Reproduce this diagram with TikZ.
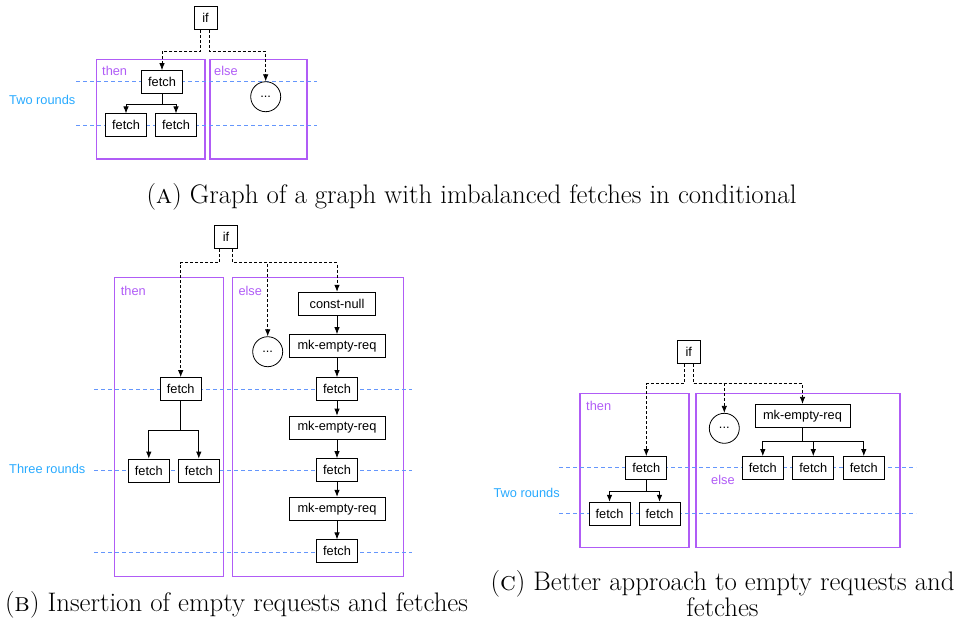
\documentclass[tikz,border=0pt]{standalone}
\usepackage{fontspec}
\newfontfamily\diagfont{Liberation Sans}
\usepackage{tikz}
\usetikzlibrary{positioning, arrows.meta}
\definecolor{framepurple}{RGB}{176,92,246}
\definecolor{roundline}{RGB}{100,150,252}
\definecolor{roundtext}{RGB}{40,170,255}
\tikzset{
    on grid,
    x=1pt, y=-1pt,
    >={Latex[length=7pt,width=5.5pt]},
    op/.style={draw, line width=0.8pt, minimum height=23pt, minimum width=41pt,
        inner sep=0pt, font=\diagfont\fontsize{12.8}{15}\selectfont},
    cond/.style={op, minimum width=23pt},
    wide/.style={op, minimum width=96pt},
    dots/.style={circle, draw, line width=0.8pt, minimum size=30pt, inner sep=0pt,
        font=\diagfont\fontsize{12.8}{15}\selectfont},
    flow/.style={->, line width=0.8pt},
    branch/.style={->, line width=0.8pt, dash pattern=on 3pt off 2pt},
    frame/.style={draw=framepurple, line width=1.2pt},
    lbl/.style={anchor=west, inner sep=0pt, text=framepurple,
        font=\diagfont\fontsize{12.8}{15}\selectfont},
    rounds/.style={draw=roundline, line width=1pt, dash pattern=on 4pt off 3pt},
    roundlbl/.style={anchor=west, inner sep=0pt, text=roundtext,
        font=\diagfont\fontsize{12.8}{15}\selectfont},
    subcap/.style={inner sep=0pt, align=center, font=\fontsize{26.8}{26}\selectfont},
}

\begin{document}
\begin{tikzpicture}
    \useasboundingbox (0,0) rectangle (963,630);

    % (a) imbalanced fetches
    \draw[frame] (96.7,59.3) rectangle (205,159);
    \draw[frame] (210,59.3) rectangle (307,159);
    \node[lbl] (thenA) at (102,70.7) {then};
    \node[lbl] (elseA) at (214,70.7) {else};
    \draw[rounds] (76,81.7) -- (316.7,81.7);
    \draw[rounds] (76,125) -- (316.7,125);
    \node[roundlbl] (roundsA) at (9,100) {Two rounds};

    \node[cond, fill=white] (ifA) at (205.5,18) {if};
    \node[op, fill=white, below left=64pt and 43.5pt of ifA] (fetchA) {fetch};
    \node[op, fill=white, below left=43.3pt and 36pt of fetchA] (fetchA1) {fetch};
    \node[op, fill=white, below right=43.3pt and 14pt of fetchA] (fetchA2) {fetch};
    \node[dots, fill=white, below right=78.7pt and 60.2pt of ifA] (dotsA) {...};

    \draw[branch] ([xshift=-4.8pt]ifA.south) -- ++(0,21.7) -| (fetchA);
    \draw[branch] ([xshift=3.8pt]ifA.south) -- ++(0,21.7) -| (dotsA);
    \draw[flow] (fetchA.south) -- ++(0,10.3) -| (fetchA1);
    \draw[flow] (fetchA.south) -- ++(0,10.3) -| (fetchA2);

    \node[subcap] (capA) at (471.5,197) {(\textsc{a}) Graph of a graph with imbalanced fetches in conditional};

    % (b) empty requests and fetches inserted
    \draw[frame] (114.7,277.3) rectangle (223.3,576.7);
    \draw[frame] (232.7,277.3) rectangle (403.3,576.7);
    \node[lbl] (thenB) at (120.7,290.7) {then};
    \node[lbl] (elseB) at (238.3,290.7) {else};
    \draw[rounds] (94,389) -- (411.7,389);
    \draw[rounds] (94,470.3) -- (411.7,470.3);
    \draw[rounds] (94,552.3) -- (411.7,552.3);
    \node[roundlbl] (roundsB) at (9,469) {Three rounds};

    \node[cond, fill=white] (ifB) at (226,237) {if};
    \node[op, fill=white, below left=152pt and 45.3pt of ifB] (fetchB) {fetch};
    \node[op, fill=white, below left=81.5pt and 31.9pt of fetchB] (fetchB1) {fetch};
    \node[op, fill=white, below right=81.5pt and 18.1pt of fetchB] (fetchB2) {fetch};
    \node[dots, fill=white, below right=114.7pt and 41.7pt of ifB] (dotsB) {...};
    \node[op, fill=white, minimum width=77pt, below right=66.7pt and 111pt of ifB] (constB) {const-null};
    \node[wide, fill=white, below=42.3pt of constB] (mkB1) {mk-empty-req};
    \node[op, fill=white, below=43pt of mkB1] (fetchB3) {fetch};
    \node[wide, fill=white, below=38.5pt of fetchB3] (mkB2) {mk-empty-req};
    \node[op, fill=white, below=42.5pt of mkB2] (fetchB4) {fetch};
    \node[wide, fill=white, below=38.7pt of fetchB4] (mkB3) {mk-empty-req};
    \node[op, fill=white, below=42.6pt of mkB3] (fetchB5) {fetch};

    \draw[branch] ([xshift=-6.7pt]ifB.south) -- ++(0,13.7) -| (fetchB);
    \draw[branch] ([xshift=6.7pt]ifB.south) -- ++(0,13.7) -| (dotsB);
    \draw[branch] ([xshift=6.7pt]ifB.south) -- ++(0,13.7) -| (constB);
    \draw[flow] (fetchB.south) -- ++(0,29) -| (fetchB1);
    \draw[flow] (fetchB.south) -- ++(0,29) -| (fetchB2);
    \draw[flow] (constB) -- (mkB1);
    \draw[flow] (mkB1) -- (fetchB3);
    \draw[flow] (fetchB3) -- (mkB2);
    \draw[flow] (mkB2) -- (fetchB4);
    \draw[flow] (fetchB4) -- (mkB3);
    \draw[flow] (mkB3) -- (fetchB5);

    \node[subcap] (capB) at (236.5,605) {(\textsc{b}) Insertion of empty requests and fetches};

    % (c) one empty request for all fetches
    \draw[frame] (580,393.3) rectangle (689,547.3);
    \draw[frame] (696,393.3) rectangle (900,547.3);
    \node[lbl] (thenC) at (586,406) {then};
    \node[lbl] (elseC) at (711,480) {else};
    \draw[rounds] (559,467.7) -- (916,467.7);
    \draw[rounds] (559,513.3) -- (916,513.3);
    \node[roundlbl] (roundsC) at (493.3,493.3) {Two rounds};

    \node[cond, fill=white] (ifC) at (688.8,352.3) {if};
    \node[op, fill=white, below left=115.7pt and 42.5pt of ifC] (fetchC) {fetch};
    \node[op, fill=white, below left=45.7pt and 36.8pt of fetchC] (fetchC1) {fetch};
    \node[op, fill=white, below right=45.7pt and 13.2pt of fetchC] (fetchC2) {fetch};
    \node[dots, fill=white, below right=76pt and 35.5pt of ifC] (dotsC) {...};
    \node[wide, fill=white, minimum width=95pt, below right=63.5pt and 113.7pt of ifC] (mkC) {mk-empty-req};
    \node[op, fill=white, below left=52.2pt and 39.7pt of mkC] (fetchC3) {fetch};
    \node[op, fill=white, below right=52.2pt and 10.8pt of mkC] (fetchC4) {fetch};
    \node[op, fill=white, below right=52.2pt and 61.3pt of mkC] (fetchC5) {fetch};

    \draw[branch] ([xshift=-4.5pt]ifC.south) -- ++(0,19.6) -| (fetchC);
    \draw[branch] ([xshift=4.5pt]ifC.south) -- ++(0,19.6) -| (dotsC);
    \draw[branch] ([xshift=4.5pt]ifC.south) -- ++(0,19.6) -| (mkC);
    \draw[flow] (fetchC.south) -- ++(0,11.5) -| (fetchC1);
    \draw[flow] (fetchC.south) -- ++(0,11.5) -| (fetchC2);
    \draw[flow] (mkC.south) -- ++(0,14) -| (fetchC3);
    \draw[flow] (mkC.south) -- ++(0,14) -| (fetchC4);
    \draw[flow] (mkC.south) -- ++(0,14) -| (fetchC5);

    \node[subcap] (capC) at (722.5,594) {(\textsc{c}) Better approach to empty requests and\\fetches};
\end{tikzpicture}
\end{document}
